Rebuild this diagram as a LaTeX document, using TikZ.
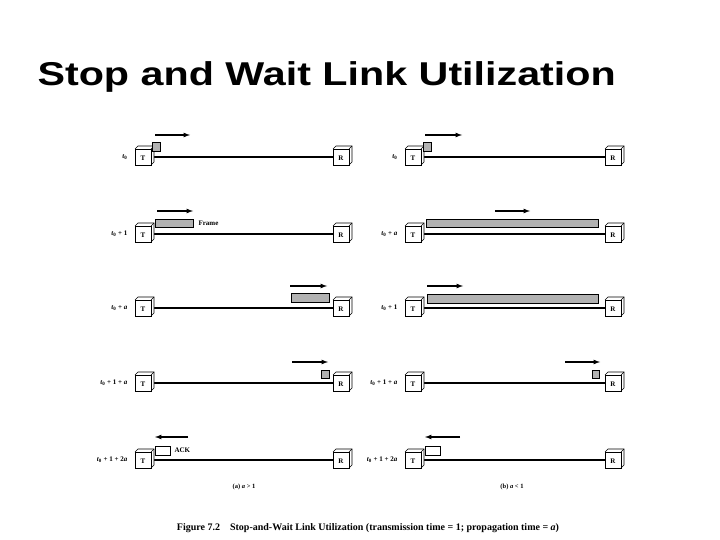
\documentclass[tikz,border=0pt]{standalone}
\usepackage{fontspec}
\usepackage{graphicx}
\setmainfont{Liberation Serif}
\newfontfamily\titlefont{Liberation Sans}
\newcommand\tz{\textit{t}\textsubscript{0}}
\begin{document}
\begin{tikzpicture}[x=1pt,y=-1pt,
  lnk/.style={line width=1.6pt},
  pkt/.style={draw,line width=0.5pt,fill=gray!60},
  ack/.style={draw,line width=0.5pt,fill=white},
  mv/.style={-latex,line width=1.2pt},
  lab/.style={anchor=east,font=\fontsize{7}{8}\selectfont\bfseries},
  smalltxt/.style={font=\fontsize{7}{8}\selectfont\bfseries}]
\useasboundingbox (0,0) rectangle (720,540);
\node[anchor=west,font=\titlefont\bfseries\fontsize{33}{36}\selectfont] (title) at (34,77) {\scalebox{1.25}[1]{Stop and Wait Link Utilization}};
\newcommand\station[3]{%
  \fill[white] (#1-8,#2-8) rectangle (#1+8,#2+8);
  \draw[line width=0.6pt,fill=white] (#1-8,#2-8) -- (#1-5,#2-11) -- (#1+11,#2-11) -- (#1+11,#2+5) -- (#1+8,#2+8);
  \draw[line width=0.6pt] (#1+8,#2-8) -- (#1+11,#2-11);
  \draw[line width=0.8pt] (#1-8,#2-8) rectangle (#1+8,#2+8);
  \node[font=\fontsize{7}{8}\selectfont\bfseries] at (#1,#2+1) {#3};}
\foreach \y/\la/\lb in {157/{\tz}/{\tz},234/{\tz{} + 1}/{\tz{} + \textit{a}},308/{\tz{} + \textit{a}}/{\tz{} + 1},383/{\tz{} + 1 + \textit{a}}/{\tz{} + 1 + \textit{a}},460/{\tz{} + 1 + 2\textit{a}}/{\tz{} + 1 + 2\textit{a}}}{
  \draw[lnk] (151,\y) -- (333,\y);
  \draw[lnk] (421,\y) -- (605,\y);
  \station{143}{\y}{T}\station{341}{\y}{R}
  \station{413}{\y}{T}\station{613}{\y}{R}
  \node[lab] at (131,\y) {\la};
  \node[lab] at (401,\y) {\lb};
}
% left column
\draw[pkt] (152,142) rectangle (160,151);
\draw[mv] (155,135) -- (190,135);
\draw[pkt] (155,219) rectangle (193,227);
\node[anchor=west,smalltxt] (fr) at (195,223) {Frame};
\draw[mv] (157,211) -- (193,211);
\draw[pkt] (291,293) rectangle (329,302);
\draw[mv] (290,286) -- (327,286);
\draw[pkt] (321,370) rectangle (329,378);
\draw[mv] (292,362) -- (328,362);
\draw[ack] (155,446) rectangle (170,455);
\node[anchor=west,smalltxt] (ak) at (171,450.5) {ACK};
\draw[mv] (188,437) -- (155,437);
% right column
\draw[pkt] (423,142) rectangle (431,151);
\draw[mv] (425,135) -- (462,135);
\draw[pkt] (426,219) rectangle (598,227);
\draw[mv] (495,211) -- (530,211);
\draw[pkt] (427,294) rectangle (598,303);
\draw[mv] (427,286) -- (463,286);
\draw[pkt] (592,370) rectangle (599,378);
\draw[mv] (565,362) -- (600,362);
\draw[ack] (425,446) rectangle (440,455);
\draw[mv] (460,437) -- (425,437);
\node[font=\fontsize{6.5}{8}\selectfont\bfseries] (ca) at (244,487) {(a) \textit{a} > 1};
\node[font=\fontsize{6.5}{8}\selectfont\bfseries] (cb) at (512,487) {(b) \textit{a} < 1};
\node[font=\fontsize{10}{12}\selectfont\bfseries] (fig) at (368,528) {Figure 7.2\quad Stop-and-Wait Link Utilization (transmission time = 1; propagation time = \textit{a})};
\end{tikzpicture}
\end{document}
